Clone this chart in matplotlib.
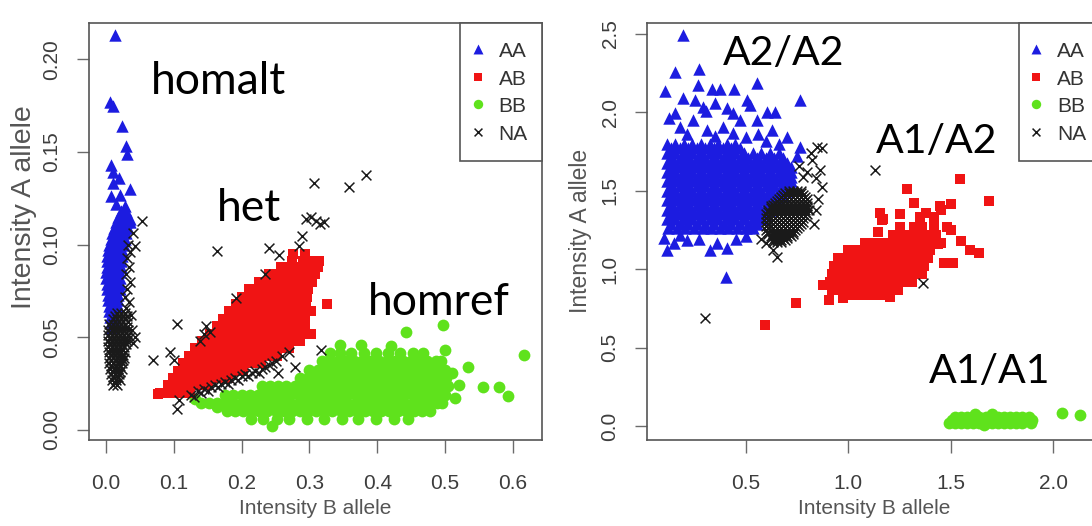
import matplotlib
matplotlib.use("Agg")
import matplotlib.pyplot as plt

plt.rcParams['font.family'] = ['Liberation Sans', 'DejaVu Sans']

# ---------------------------------------------------------------- left panel
# sparse calls are (x, y) pairs, dense clusters are (y, [x, ...]) rows
left_aa_rows = [
    (0.118, [0.022, 0.030]),
    (0.115, [0.018, 0.026, 0.033]),
    (0.112, [0.015, 0.022, 0.029, 0.035]),
    (0.109, [0.012, 0.019, 0.026, 0.033]),
    (0.106, [0.009, 0.016, 0.023, 0.030]),
    (0.103, [0.007, 0.014, 0.021, 0.028]),
    (0.100, [0.005, 0.012, 0.019, 0.026]),
    (0.097, [0.003, 0.010, 0.017, 0.024]),
    (0.094, [0.002, 0.009, 0.016, 0.023]),
    (0.091, [0.001, 0.008, 0.015, 0.022]),
    (0.088, [0.001, 0.008, 0.015, 0.022]),
    (0.085, [0.000, 0.007, 0.014, 0.021]),
    (0.082, [0.000, 0.007, 0.014, 0.021]),
    (0.079, [0.001, 0.008, 0.015, 0.021]),
    (0.076, [0.002, 0.009, 0.016, 0.021]),
    (0.073, [0.003, 0.010, 0.017]),
    (0.070, [0.003, 0.010, 0.017]),
    (0.067, [0.004, 0.011, 0.017]),
    (0.064, [0.005, 0.012]),
    (0.061, [0.006, 0.013]),
    (0.058, [0.007, 0.013]),
    (0.055, [0.008]),
]
left_aa = [
    (0.013, 0.213), (0.006, 0.177), (0.011, 0.175), (0.023, 0.164),
    (0.030, 0.153), (0.031, 0.149), (0.008, 0.143), (0.011, 0.139),
    (0.019, 0.136), (0.010, 0.133), (0.035, 0.130), (0.008, 0.126),
    (0.021, 0.127), (0.015, 0.122), (0.028, 0.121), (0.036, 0.114),
]

left_na_rows = [
    (0.0630, [0.016, 0.022, 0.028]),
    (0.0615, [0.013, 0.019, 0.025, 0.031]),
    (0.0600, [0.010, 0.016, 0.022, 0.028]),
    (0.0570, [0.004, 0.010, 0.016, 0.022, 0.028]),
    (0.0555, [0.007, 0.013, 0.019, 0.025, 0.031]),
    (0.0540, [0.003, 0.009, 0.015, 0.021, 0.027, 0.032]),
    (0.0525, [0.006, 0.012, 0.018, 0.024, 0.030]),
    (0.0510, [0.003, 0.009, 0.015, 0.021, 0.027, 0.032]),
    (0.0495, [0.006, 0.012, 0.018, 0.024, 0.030]),
    (0.0480, [0.003, 0.009, 0.015, 0.021, 0.027, 0.031]),
    (0.0465, [0.006, 0.012, 0.018, 0.024, 0.030]),
    (0.0450, [0.003, 0.009, 0.015, 0.021, 0.027]),
    (0.0435, [0.006, 0.012, 0.018, 0.024]),
    (0.0420, [0.004, 0.010, 0.016, 0.022, 0.028]),
    (0.0405, [0.007, 0.013, 0.019, 0.025]),
    (0.0390, [0.004, 0.010, 0.016, 0.022, 0.027]),
    (0.0375, [0.008, 0.014, 0.020, 0.025]),
    (0.0360, [0.005, 0.011, 0.017, 0.023]),
    (0.0345, [0.008, 0.014, 0.020]),
    (0.0330, [0.006, 0.012, 0.018, 0.023]),
    (0.0315, [0.010, 0.016, 0.021]),
    (0.0300, [0.007, 0.013, 0.019]),
    (0.0285, [0.011, 0.017]),
    (0.0270, [0.009, 0.015, 0.020]),
    (0.0255, [0.013]),
    (0.0240, [0.011, 0.016]),
]
left_na = [
    # right flank of the homalt strip
    (0.033, 0.100), (0.036, 0.096), (0.031, 0.093), (0.034, 0.088),
    (0.030, 0.084), (0.035, 0.080), (0.031, 0.076), (0.028, 0.072),
    (0.034, 0.069), (0.030, 0.066), (0.037, 0.062), (0.033, 0.058),
    (0.038, 0.054), (0.035, 0.050), (0.043, 0.050), (0.040, 0.047),
    (0.053, 0.113), (0.043, 0.099), (0.040, 0.106),
    # edge between het and homref
    (0.125, 0.019), (0.130, 0.018), (0.135, 0.021), (0.140, 0.020),
    (0.145, 0.022), (0.150, 0.021), (0.155, 0.023), (0.160, 0.024),
    (0.165, 0.023), (0.170, 0.025), (0.175, 0.026), (0.180, 0.025),
    (0.185, 0.027), (0.190, 0.028), (0.195, 0.027), (0.200, 0.029),
    (0.205, 0.030), (0.210, 0.029), (0.215, 0.031), (0.220, 0.032),
    (0.225, 0.031), (0.230, 0.033), (0.235, 0.034), (0.240, 0.035),
    (0.245, 0.036), (0.250, 0.037), (0.260, 0.040), (0.270, 0.042),
    # scattered no-calls around het
    (0.307, 0.133), (0.358, 0.131), (0.383, 0.1376), (0.295, 0.114),
    (0.302, 0.115), (0.310, 0.113), (0.315, 0.111), (0.322, 0.112),
    (0.289, 0.1046), (0.285, 0.0995), (0.240, 0.098), (0.255, 0.0946),
    (0.164, 0.0968), (0.235, 0.0842), (0.191, 0.0711), (0.104, 0.057),
    (0.147, 0.056), (0.145, 0.052), (0.153, 0.053), (0.095, 0.042),
    (0.070, 0.0377), (0.317, 0.043), (0.279, 0.034), (0.253, 0.031),
    (0.104, 0.0115), (0.107, 0.016), (0.100, 0.038), (0.138, 0.048),
]

left_ab_rows = [
    (0.020, [0.080, 0.092, 0.104, 0.116, 0.124]),
    (0.024, [0.092, 0.104, 0.116, 0.128, 0.140, 0.150]),
    (0.028, [0.099, 0.111, 0.123, 0.135, 0.147, 0.159, 0.171, 0.180]),
    (0.032, [0.106, 0.118, 0.130, 0.142, 0.154, 0.166, 0.178, 0.190, 0.202]),
    (0.036, [0.114, 0.126, 0.138, 0.150, 0.162, 0.174, 0.186, 0.198, 0.210,
             0.222, 0.229]),
    (0.040, [0.122, 0.134, 0.146, 0.158, 0.170, 0.182, 0.194, 0.206, 0.218,
             0.230, 0.242, 0.252]),
    (0.044, [0.131, 0.143, 0.155, 0.167, 0.179, 0.191, 0.203, 0.215, 0.227,
             0.239, 0.251, 0.263, 0.270]),
    (0.048, [0.142, 0.154, 0.166, 0.178, 0.190, 0.202, 0.214, 0.226, 0.238,
             0.250, 0.262, 0.274, 0.286]),
    (0.052, [0.153, 0.165, 0.177, 0.189, 0.201, 0.213, 0.225, 0.237, 0.249,
             0.261, 0.273, 0.285, 0.294]),
    (0.056, [0.163, 0.175, 0.187, 0.199, 0.211, 0.223, 0.235, 0.247, 0.259,
             0.271, 0.283, 0.294]),
    (0.060, [0.172, 0.184, 0.196, 0.208, 0.220, 0.232, 0.244, 0.256, 0.268,
             0.280, 0.294]),
    (0.064, [0.181, 0.193, 0.205, 0.217, 0.229, 0.241, 0.253, 0.265, 0.277,
             0.289, 0.295]),
    (0.068, [0.191, 0.203, 0.215, 0.227, 0.239, 0.251, 0.263, 0.275, 0.287,
             0.295]),
    (0.072, [0.200, 0.212, 0.224, 0.236, 0.248, 0.260, 0.272, 0.284, 0.296]),
    (0.076, [0.211, 0.223, 0.235, 0.247, 0.259, 0.271, 0.283, 0.298]),
    (0.080, [0.225, 0.237, 0.249, 0.261, 0.273, 0.285, 0.297, 0.304]),
    (0.084, [0.240, 0.252, 0.264, 0.276, 0.288, 0.300, 0.308]),
    (0.088, [0.258, 0.270, 0.282, 0.294, 0.306, 0.313]),
    (0.091, [0.274, 0.290, 0.304, 0.314]),
]
left_ab = [(0.3255, 0.068), (0.276, 0.095), (0.294, 0.095), (0.077, 0.0195),
           (0.302, 0.064), (0.302, 0.052)]

left_bb_rows = [
    (0.0415, [0.330, 0.345, 0.362, 0.380, 0.398, 0.416, 0.434, 0.452, 0.468]),
    (0.037, [0.318, 0.330, 0.342, 0.354, 0.366, 0.378, 0.390, 0.402, 0.414,
             0.426, 0.438, 0.450, 0.462, 0.474, 0.486, 0.494]),
    (0.0325, [0.300, 0.312, 0.324, 0.336, 0.348, 0.360, 0.372, 0.384, 0.396,
              0.408, 0.420, 0.432, 0.444, 0.456, 0.468, 0.480, 0.492, 0.500]),
    (0.028, [0.286, 0.298, 0.310, 0.322, 0.334, 0.346, 0.358, 0.370, 0.382,
             0.394, 0.406, 0.418, 0.430, 0.442, 0.454, 0.466, 0.478, 0.490,
             0.502]),
    (0.0235, [0.230, 0.242, 0.254, 0.266, 0.278, 0.290, 0.302, 0.314, 0.326,
              0.338, 0.350, 0.362, 0.374, 0.386, 0.398, 0.410, 0.422, 0.434,
              0.446, 0.458, 0.470, 0.482, 0.494, 0.504]),
    (0.019, [0.176, 0.188, 0.200, 0.212, 0.224, 0.236, 0.248, 0.260, 0.272,
             0.284, 0.296, 0.308, 0.320, 0.332, 0.344, 0.356, 0.368, 0.380,
             0.392, 0.404, 0.416, 0.428, 0.440, 0.452, 0.464, 0.476, 0.488,
             0.500]),
    (0.0145, [0.140, 0.152, 0.164, 0.176, 0.188, 0.200, 0.212, 0.224, 0.236,
              0.248, 0.260, 0.272, 0.284, 0.296, 0.308, 0.320, 0.332, 0.344,
              0.356, 0.368, 0.380, 0.392, 0.404, 0.416, 0.428, 0.440, 0.452,
              0.464, 0.476, 0.488, 0.496]),
    (0.010, [0.178, 0.190, 0.202, 0.214, 0.226, 0.238, 0.250, 0.262, 0.274,
             0.286, 0.298, 0.310, 0.322, 0.334, 0.346, 0.358, 0.370, 0.382,
             0.394, 0.406, 0.418, 0.430, 0.442, 0.454, 0.466, 0.478]),
    (0.006, [0.214, 0.232, 0.252, 0.270, 0.296, 0.322, 0.348, 0.372, 0.398,
             0.424, 0.446]),
]
left_bb = [(0.443, 0.053), (0.4965, 0.0567), (0.3765, 0.0459), (0.616, 0.0405),
           (0.5335, 0.0341), (0.5567, 0.0232), (0.5795, 0.0232),
           (0.5927, 0.0183), (0.245, 0.0024), (0.131, 0.0165),
           (0.163, 0.0124), (0.421, 0.0455), (0.500, 0.0432), (0.510, 0.031),
           (0.515, 0.0175), (0.520, 0.024), (0.345, 0.046)]

# --------------------------------------------------------------- right panel
right_aa_rows = [
    (1.80, [0.113, 0.155, 0.197, 0.239, 0.281, 0.323, 0.365, 0.407, 0.449]),
    (1.77, [0.134, 0.176, 0.218, 0.260, 0.302, 0.344, 0.386, 0.428, 0.470]),
    (1.74, [0.113, 0.155, 0.197, 0.239, 0.281, 0.323, 0.365, 0.407, 0.449,
            0.491, 0.533, 0.575, 0.617, 0.659]),
    (1.71, [0.134, 0.176, 0.218, 0.260, 0.302, 0.344, 0.386, 0.428, 0.470,
            0.512, 0.554, 0.596, 0.638, 0.680]),
    (1.68, [0.113, 0.155, 0.197, 0.239, 0.281, 0.323, 0.365, 0.407, 0.449,
            0.491, 0.533, 0.575, 0.617, 0.659, 0.701]),
    (1.65, [0.134, 0.176, 0.218, 0.260, 0.302, 0.344, 0.386, 0.428, 0.470,
            0.512, 0.554, 0.596, 0.638, 0.680, 0.722]),
    (1.62, [0.113, 0.155, 0.197, 0.239, 0.281, 0.323, 0.365, 0.407, 0.449,
            0.491, 0.533, 0.575, 0.617, 0.659, 0.701, 0.722]),
    (1.59, [0.134, 0.176, 0.218, 0.260, 0.302, 0.344, 0.386, 0.428, 0.470,
            0.512, 0.554, 0.596, 0.638, 0.680, 0.722]),
    (1.56, [0.113, 0.155, 0.197, 0.239, 0.281, 0.323, 0.365, 0.407, 0.449,
            0.491, 0.533, 0.575, 0.617, 0.659, 0.701, 0.722]),
    (1.53, [0.134, 0.176, 0.218, 0.260, 0.302, 0.344, 0.386, 0.428, 0.470,
            0.512, 0.554, 0.596, 0.638, 0.680, 0.722]),
    (1.50, [0.113, 0.155, 0.197, 0.239, 0.281, 0.323, 0.365, 0.407, 0.449,
            0.491, 0.533, 0.575, 0.617, 0.659, 0.701]),
    (1.47, [0.134, 0.176, 0.218, 0.260, 0.302, 0.344, 0.386, 0.428, 0.470,
            0.512, 0.554, 0.596, 0.638, 0.680]),
    (1.44, [0.113, 0.155, 0.197, 0.239, 0.281, 0.323, 0.365, 0.407, 0.449,
            0.491, 0.533, 0.575, 0.617, 0.659]),
    (1.41, [0.134, 0.176, 0.218, 0.260, 0.302, 0.344, 0.386, 0.428, 0.470,
            0.512, 0.554, 0.596, 0.638]),
    (1.38, [0.113, 0.155, 0.197, 0.239, 0.281, 0.323, 0.365, 0.407, 0.449,
            0.491, 0.533, 0.575, 0.617]),
    (1.35, [0.134, 0.176, 0.218, 0.260, 0.302, 0.344, 0.386, 0.428, 0.470,
            0.512, 0.554, 0.596]),
    (1.32, [0.113, 0.155, 0.197, 0.239, 0.281, 0.323, 0.365, 0.407, 0.449,
            0.491, 0.533, 0.575]),
    (1.29, [0.134, 0.176, 0.218, 0.260, 0.302, 0.344, 0.386, 0.428, 0.470,
            0.512, 0.554]),
    (1.26, [0.120, 0.162, 0.204, 0.246, 0.288, 0.330, 0.372, 0.414, 0.456,
            0.498, 0.533]),
]
right_aa = [
    (0.194, 2.494), (0.154, 2.260), (0.272, 2.280), (0.105, 2.138),
    (0.268, 2.175), (0.333, 2.150), (0.374, 2.150), (0.443, 2.150),
    (0.553, 2.186), (0.764, 2.079), (0.126, 1.962), (0.194, 2.090),
    (0.251, 2.079), (0.292, 2.036), (0.349, 2.058), (0.306, 2.010),
    (0.406, 2.026), (0.438, 1.994), (0.504, 2.079), (0.520, 2.050),
    (0.471, 1.952), (0.553, 1.952), (0.601, 2.005), (0.642, 2.000),
    (0.699, 1.845), (0.178, 1.909), (0.243, 1.952), (0.309, 1.888),
    (0.390, 1.909), (0.438, 1.867), (0.626, 1.888), (0.154, 1.994),
    (0.210, 1.860), (0.350, 1.850), (0.500, 1.840), (0.560, 1.860),
    (0.600, 1.820), (0.660, 1.800), (0.764, 1.780), (0.747, 1.720),
    (0.113, 1.122), (0.211, 1.186), (0.325, 1.122), (0.406, 1.133),
    (0.403, 0.948), (0.270, 1.190), (0.450, 1.190), (0.150, 1.170),
    (0.100, 1.200), (0.360, 1.170), (0.180, 1.215), (0.500, 1.210),
]

right_na_rows = [
    (1.5000, [0.71, 0.73, 0.75, 0.77]),
    (1.4875, [0.69, 0.71, 0.73, 0.75, 0.77]),
    (1.4750, [0.68, 0.70, 0.72, 0.74, 0.76, 0.78]),
    (1.4625, [0.67, 0.69, 0.71, 0.73, 0.75, 0.77, 0.79]),
    (1.4500, [0.66, 0.68, 0.70, 0.72, 0.74, 0.76, 0.78, 0.80]),
    (1.4375, [0.65, 0.67, 0.69, 0.71, 0.73, 0.75, 0.77, 0.79]),
    (1.4250, [0.64, 0.66, 0.68, 0.70, 0.72, 0.74, 0.76, 0.78, 0.80]),
    (1.4125, [0.63, 0.65, 0.67, 0.69, 0.71, 0.73, 0.75, 0.77, 0.79]),
    (1.4000, [0.62, 0.64, 0.66, 0.68, 0.70, 0.72, 0.74, 0.76, 0.78, 0.80]),
    (1.3875, [0.62, 0.64, 0.66, 0.68, 0.70, 0.72, 0.74, 0.76, 0.78, 0.80]),
    (1.3750, [0.61, 0.63, 0.65, 0.67, 0.69, 0.71, 0.73, 0.75, 0.77, 0.79,
              0.81]),
    (1.3625, [0.61, 0.63, 0.65, 0.67, 0.69, 0.71, 0.73, 0.75, 0.77, 0.79]),
    (1.3500, [0.60, 0.62, 0.64, 0.66, 0.68, 0.70, 0.72, 0.74, 0.76, 0.78,
              0.80]),
    (1.3375, [0.61, 0.63, 0.65, 0.67, 0.69, 0.71, 0.73, 0.75, 0.77, 0.79]),
    (1.3250, [0.60, 0.62, 0.64, 0.66, 0.68, 0.70, 0.72, 0.74, 0.76, 0.78]),
    (1.3125, [0.61, 0.63, 0.65, 0.67, 0.69, 0.71, 0.73, 0.75, 0.77]),
    (1.3000, [0.60, 0.62, 0.64, 0.66, 0.68, 0.70, 0.72, 0.74, 0.76, 0.78]),
    (1.2875, [0.61, 0.63, 0.65, 0.67, 0.69, 0.71, 0.73, 0.75, 0.77]),
    (1.2750, [0.60, 0.62, 0.64, 0.66, 0.68, 0.70, 0.72, 0.74, 0.76]),
    (1.2625, [0.61, 0.63, 0.65, 0.67, 0.69, 0.71, 0.73, 0.75]),
    (1.2500, [0.60, 0.62, 0.64, 0.66, 0.68, 0.70, 0.72, 0.74]),
    (1.2375, [0.61, 0.63, 0.65, 0.67, 0.69, 0.71, 0.73]),
    (1.2250, [0.61, 0.63, 0.65, 0.67, 0.69, 0.71, 0.73]),
    (1.2125, [0.62, 0.64, 0.66, 0.68, 0.70, 0.72]),
    (1.2000, [0.62, 0.64, 0.66, 0.68, 0.70]),
    (1.1875, [0.63, 0.65, 0.67, 0.69]),
    (1.1750, [0.63, 0.65, 0.67]),
]
right_na = [
    (0.846, 1.780), (0.870, 1.770), (0.821, 1.696), (0.870, 1.526),
    (0.862, 1.630), (0.780, 1.590), (0.634, 1.122), (0.650, 1.080),
    (0.600, 1.170), (0.800, 1.620), (0.840, 1.580), (0.760, 1.660),
    (0.820, 1.740), (0.850, 1.450), (0.840, 1.380), (1.130, 1.633),
    (0.299, 0.687), (1.365, 0.912), (0.575, 1.190), (0.830, 1.290),
]

right_ab_rows = [
    (1.270, [1.32, 1.36, 1.42]),
    (1.220, [1.22, 1.26, 1.30, 1.34, 1.38, 1.43]),
    (1.170, [1.08, 1.12, 1.17, 1.21, 1.25, 1.29, 1.33, 1.37, 1.41, 1.45]),
    (1.120, [1.00, 1.04, 1.08, 1.12, 1.16, 1.20, 1.24, 1.28, 1.32, 1.36,
             1.40]),
    (1.070, [0.95, 0.99, 1.03, 1.07, 1.11, 1.15, 1.19, 1.23, 1.27, 1.31,
             1.35, 1.39]),
    (1.020, [0.93, 0.97, 1.01, 1.05, 1.09, 1.13, 1.17, 1.21, 1.25, 1.29,
             1.33, 1.37]),
    (0.970, [0.92, 0.96, 1.00, 1.04, 1.08, 1.12, 1.16, 1.20, 1.24, 1.28,
             1.32, 1.36]),
    (0.920, [0.91, 0.95, 0.99, 1.03, 1.07, 1.11, 1.15, 1.19, 1.23, 1.27,
             1.31]),
    (0.870, [0.92, 0.96, 1.00, 1.04, 1.08, 1.12, 1.16, 1.20, 1.24]),
    (0.835, [0.98, 1.02, 1.06, 1.10, 1.15, 1.20]),
]
right_ab = [
    (0.594, 0.644), (0.743, 0.783), (0.904, 0.805), (0.973, 0.815),
    (1.543, 1.574), (1.688, 1.435), (1.288, 1.510), (1.322, 1.424),
    (1.500, 1.413), (1.552, 1.178), (1.595, 1.125), (1.637, 1.104),
    (1.467, 1.040), (1.510, 1.040), (1.168, 1.317), (1.204, 0.825),
    (1.155, 1.360), (1.450, 1.380), (1.420, 1.330), (1.480, 1.270),
    (1.380, 1.360), (1.250, 1.350), (1.500, 1.250), (1.440, 1.160),
    (0.878, 0.900), (1.163, 1.314), (1.147, 1.239), (1.350, 1.335),
    (1.448, 1.400), (1.252, 1.271),
]

right_bb_rows = [
    (0.058, [1.52, 1.55, 1.58, 1.61, 1.64, 1.67, 1.70, 1.73, 1.76, 1.79,
             1.82, 1.85, 1.88]),
    (0.040, [1.505, 1.535, 1.565, 1.595, 1.625, 1.655, 1.685, 1.715, 1.745,
             1.775, 1.805, 1.835, 1.865, 1.895]),
    (0.022, [1.49, 1.52, 1.55, 1.58, 1.61, 1.64, 1.67, 1.70, 1.73, 1.76,
             1.79, 1.82, 1.85, 1.89]),
]
right_bb = [(1.660, 0.005), (1.620, 0.075), (1.700, 0.078), (2.042, 0.081),
            (2.131, 0.070)]

CALL_ORDER = ['AA', 'AB', 'BB', 'NA']
DRAW_ORDER = ['BB', 'AB', 'AA', 'NA']
STYLES = {
    'AA': dict(marker='^', s=80, c='#1c1ce0', linewidths=0),
    'AB': dict(marker='s', s=56, c='#f01414', linewidths=0),
    'BB': dict(marker='o', s=72, c='#5fe21c', linewidths=0),
    'NA': dict(marker='x', s=50, c='#1a1a1a', linewidths=1.1),
}
AXIS_GREY = '#555555'


def unpack(rows=(), points=()):
    xs, ys = [], []
    for y, row in rows:
        xs.extend(row)
        ys.extend([y] * len(row))
    for x, y in points:
        xs.append(x)
        ys.append(y)
    return xs, ys


def draw_panel(ax, calls, xlim, ylim, xticks, xlabels, yticks, ylabels,
               ylabel_size, ylabel_pos, notes, note_size):
    handles = {}
    for name in DRAW_ORDER:
        xs, ys = calls[name]
        handles[name] = ax.scatter(xs, ys, label=name, **STYLES[name])

    ax.set_xlim(*xlim)
    ax.set_ylim(*ylim)
    ax.set_xticks(xticks)
    ax.set_xticklabels(xlabels)
    ax.set_yticks(yticks)
    ax.set_yticklabels(ylabels, rotation=90, va='center')
    ax.tick_params(direction='out', length=9, width=1.0, color='#6b6b6b',
                   labelsize=15, labelcolor='#3d3d3d')
    ax.tick_params(axis='x', pad=15.5)
    ax.tick_params(axis='y', pad=11)
    for spine in ax.spines.values():
        spine.set_color(AXIS_GREY)
        spine.set_linewidth(1.2)

    ax.set_xlabel('Intensity B allele', fontsize=15, color=AXIS_GREY)
    ax.xaxis.set_label_coords(0.5, -0.165)
    ax.xaxis.label.set_va('center')
    ax.set_ylabel('Intensity A allele', fontsize=ylabel_size,
                  color=AXIS_GREY)
    ax.yaxis.set_label_coords(*ylabel_pos)
    ax.yaxis.label.set_va('center')

    leg = ax.legend([handles[n] for n in CALL_ORDER], CALL_ORDER,
                    loc='upper right', bbox_to_anchor=(1, 1),
                    borderaxespad=0, fancybox=False, framealpha=1,
                    edgecolor=AXIS_GREY, fontsize=15, borderpad=0.667,
                    handlelength=0.355, handleheight=1.66,
                    handletextpad=0.816, labelspacing=0, scatterpoints=1,
                    scatteryoffsets=[0.3], markerscale=0.8)
    leg.get_frame().set_linewidth(1.2)
    for t in leg.get_texts():
        t.set_color('#333333')

    # genotype names written over the clusters
    for text, (fx, fy) in notes:
        ax.text(fx, fy, text, transform=ax.transAxes, family='Lato',
                fontsize=note_size, ha='left', va='baseline', color='black')


fig = plt.figure(figsize=(10.92, 5.26), dpi=100)
ax_left = fig.add_axes([0.0815, 0.1635, 0.4146, 0.7933])
ax_right = fig.add_axes([0.5928, 0.1635, 0.4146, 0.7933])

left_calls = {
    'AA': unpack(left_aa_rows, left_aa),
    'AB': unpack(left_ab_rows, left_ab),
    'BB': unpack(left_bb_rows, left_bb),
    'NA': unpack(left_na_rows, left_na),
}
right_calls = {
    'AA': unpack(right_aa_rows, right_aa),
    'AB': unpack(right_ab_rows, right_ab),
    'BB': unpack(right_bb_rows, right_bb),
    'NA': unpack(right_na_rows, right_na),
}

draw_panel(ax_left, left_calls, (-0.0251, 0.6426), (-0.0054, 0.2197),
           [0.0, 0.1, 0.2, 0.3, 0.4, 0.5, 0.6],
           ['0.0', '0.1', '0.2', '0.3', '0.4', '0.5', '0.6'],
           [0.0, 0.05, 0.10, 0.15, 0.20],
           ['0.00', '0.05', '0.10', '0.15', '0.20'],
           20.5, (-0.143, 0.557),
           [('homalt', (0.1365, 0.8296)), ('het', (0.2827, 0.5248)),
            ('homref', (0.617, 0.2995))], 32)

draw_panel(ax_right, right_calls, (0.0186, 2.229), (-0.0893, 2.572),
           [0.5, 1.0, 1.5, 2.0], ['0.5', '1.0', '1.5', '2.0'],
           [0.0, 0.5, 1.0, 1.5, 2.0, 2.5],
           ['0.0', '0.5', '1.0', '1.5', '2.0', '2.5'],
           16.5, (-0.147, 0.501),
           [('A2/A2', (0.1679, 0.8986)), ('A1/A2', (0.5048, 0.6868)),
            ('A1/A1', (0.6218, 0.1359))], 29.5)

fig.savefig('out.png', dpi=100, facecolor='white')
